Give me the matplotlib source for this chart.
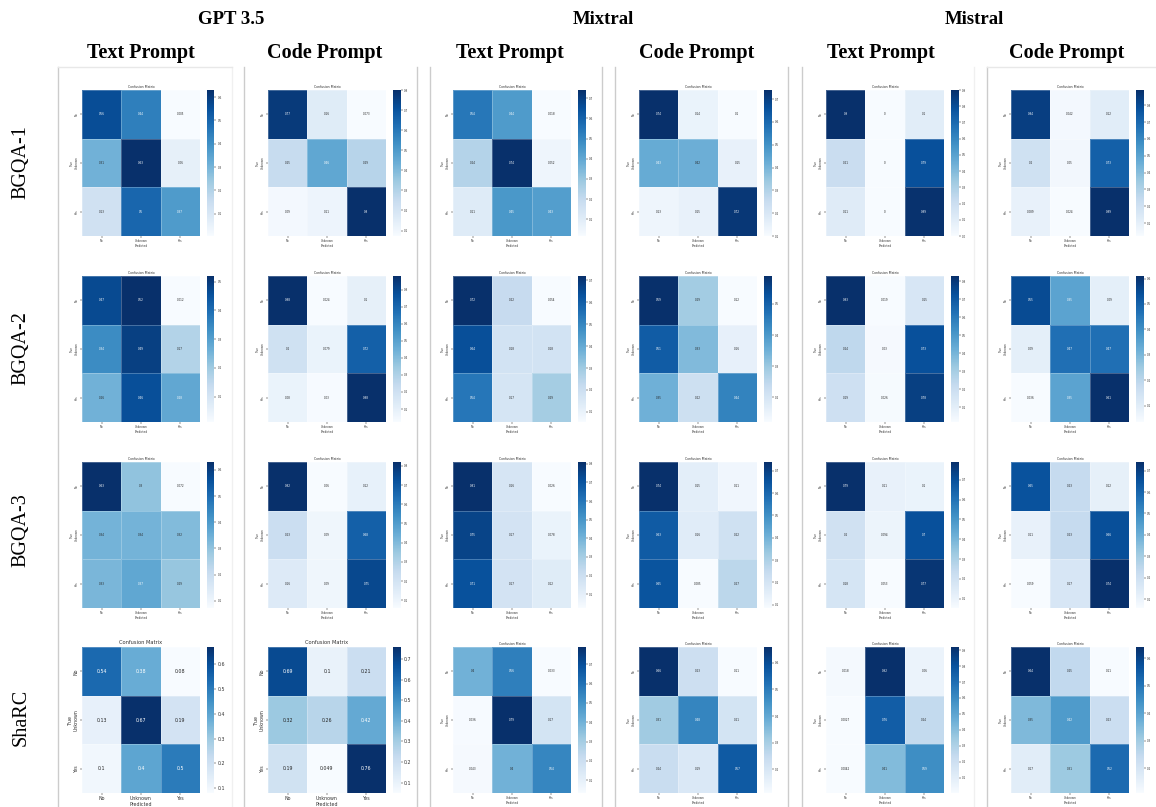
import matplotlib
matplotlib.use('Agg')
import matplotlib.pyplot as plt
from matplotlib.lines import Line2D
from matplotlib.ticker import MultipleLocator

WIDTH, HEIGHT = 1156, 807

models = ['GPT 3.5', 'Mixtral', 'Mistral']
prompts = ['Text Prompt', 'Code Prompt']
datasets = ['BGQA-1', 'BGQA-2', 'BGQA-3', 'ShaRC']
classes = ['No', 'Unknown', 'Yes']

bgqa1_gpt_text = [[0.56, 0.44, 0.005], [0.31, 0.63, 0.06], [0.13, 0.5, 0.37]]
bgqa1_gpt_code = [[0.77, 0.16, 0.073], [0.25, 0.46, 0.29], [0.09, 0.11, 0.8]]
bgqa1_mixtral_text = [[0.54, 0.44, 0.018], [0.24, 0.74, 0.052], [0.11, 0.45, 0.43]]
bgqa1_mixtral_code = [[0.74, 0.14, 0.1], [0.43, 0.42, 0.15], [0.13, 0.15, 0.72]]
bgqa1_mistral_text = [[0.9, 0, 0.1], [0.21, 0, 0.79], [0.11, 0, 0.89]]
bgqa1_mistral_code = [[0.84, 0.042, 0.12], [0.2, 0.05, 0.73], [0.089, 0.024, 0.89]]

bgqa2_gpt_text = [[0.47, 0.52, 0.012], [0.34, 0.49, 0.17], [0.26, 0.46, 0.28]]
bgqa2_gpt_code = [[0.88, 0.024, 0.1], [0.2, 0.079, 0.72], [0.08, 0.03, 0.88]]
bgqa2_mixtral_text = [[0.72, 0.22, 0.054], [0.64, 0.18, 0.18], [0.54, 0.17, 0.29]]
bgqa2_mixtral_code = [[0.59, 0.29, 0.12], [0.51, 0.33, 0.16], [0.35, 0.22, 0.44]]
bgqa2_mistral_text = [[0.83, 0.019, 0.15], [0.24, 0.03, 0.73], [0.19, 0.026, 0.78]]
bgqa2_mistral_code = [[0.55, 0.35, 0.09], [0.09, 0.47, 0.47], [0.036, 0.35, 0.61]]

bgqa3_gpt_text = [[0.63, 0.3, 0.072], [0.34, 0.34, 0.32], [0.33, 0.37, 0.29]]
bgqa3_gpt_code = [[0.82, 0.06, 0.12], [0.23, 0.09, 0.68], [0.16, 0.09, 0.75]]
bgqa3_mixtral_text = [[0.81, 0.16, 0.026], [0.75, 0.17, 0.078], [0.71, 0.17, 0.12]]
bgqa3_mixtral_code = [[0.74, 0.15, 0.11], [0.63, 0.16, 0.22], [0.65, 0.085, 0.27]]
bgqa3_mistral_text = [[0.79, 0.11, 0.1], [0.2, 0.094, 0.7], [0.18, 0.053, 0.77]]
bgqa3_mistral_code = [[0.65, 0.23, 0.12], [0.11, 0.23, 0.66], [0.059, 0.17, 0.74]]

sharc_gpt_text = [[0.54, 0.38, 0.08], [0.13, 0.67, 0.19], [0.1, 0.4, 0.5]]
sharc_gpt_code = [[0.69, 0.1, 0.21], [0.32, 0.26, 0.42], [0.19, 0.049, 0.76]]
sharc_mixtral_text = [[0.4, 0.56, 0.033], [0.036, 0.79, 0.17], [0.043, 0.4, 0.54]]
sharc_mixtral_code = [[0.66, 0.23, 0.11], [0.31, 0.48, 0.21], [0.24, 0.19, 0.57]]
sharc_mistral_text = [[0.018, 0.92, 0.06], [0.0027, 0.76, 0.24], [0.0042, 0.41, 0.59]]
sharc_mistral_code = [[0.64, 0.25, 0.11], [0.35, 0.42, 0.23], [0.17, 0.31, 0.52]]

matrices = [
    [bgqa1_gpt_text, bgqa1_gpt_code, bgqa1_mixtral_text, bgqa1_mixtral_code, bgqa1_mistral_text, bgqa1_mistral_code],
    [bgqa2_gpt_text, bgqa2_gpt_code, bgqa2_mixtral_text, bgqa2_mixtral_code, bgqa2_mistral_text, bgqa2_mistral_code],
    [bgqa3_gpt_text, bgqa3_gpt_code, bgqa3_mixtral_text, bgqa3_mixtral_code, bgqa3_mistral_text, bgqa3_mistral_code],
    [sharc_gpt_text, sharc_gpt_code, sharc_mixtral_text, sharc_mixtral_code, sharc_mistral_text, sharc_mistral_code],
]

# pixel boxes measured on the reference
col_left = [82, 268, 453, 639, 826, 1011]
row_top = [90, 276, 462, 647]
row_label_y = [162, 348, 530, 717]
panel_w, panel_h = 118, 146
separators = [58, 244, 417, 430, 602, 615, 788, 802, 987]
faint_separators = [232, 974]


def pixel_box(left, top, width, height):
    return [left / WIDTH, 1 - (top + height) / HEIGHT, width / WIDTH, height / HEIGHT]


def fig_text(fig, x, y, label, **kwargs):
    fig.text(x / WIDTH, 1 - y / HEIGHT, label, ha='center', va='center',
             family='Liberation Serif', color='black', **kwargs)


def format_value(value):
    return f'{value:.2g}'


def draw_matrix(fig, matrix, left, top, big):
    ax = fig.add_axes(pixel_box(left, top, panel_w, panel_h))
    cax = fig.add_axes(pixel_box(left + panel_w + 7, top, 7.5, panel_h))
    flat = [v for row in matrix for v in row]
    low, high = min(flat), max(flat)

    small = 3.4 if big else 2.0
    mesh = ax.pcolormesh(matrix, cmap='Blues', vmin=low, vmax=high,
                         edgecolors=(1, 1, 1, 0.25), linewidth=0.5)
    ax.invert_yaxis()
    for i, row in enumerate(matrix):
        for j, value in enumerate(row):
            shade = (value - low) / (high - low)
            ax.text(j + 0.5, i + 0.5, format_value(value), ha='center', va='center',
                    fontsize=small, color='white' if shade > 0.5 else '#262626')

    ax.set_xticks([0.5, 1.5, 2.5], classes)
    ax.set_yticks([0.5, 1.5, 2.5], classes, rotation=90, va='center')
    ax.tick_params(labelsize=small, length=1.2, width=0.3, pad=1.2, labelcolor='#333333')
    ax.set_title('Confusion Matrix', fontsize=small + 0.3, pad=2 if big else 1.2, color='#333333')
    ax.set_xlabel('Predicted', fontsize=small, labelpad=0.8, color='#333333')
    ax.set_ylabel('True', fontsize=small, labelpad=0.5, color='#333333')
    for spine in ax.spines.values():
        spine.set_visible(False)

    bar = fig.colorbar(mesh, cax=cax)
    bar.locator = MultipleLocator(0.1)
    bar.update_ticks()
    bar.outline.set_visible(False)
    cax.tick_params(labelsize=small, length=1.2, width=0.3, pad=1, labelcolor='#333333')


def main():
    fig = plt.figure(figsize=(WIDTH / 100, HEIGHT / 100), dpi=100)

    for x in separators:
        fig.add_artist(Line2D([x / WIDTH] * 2, [0, 1 - 67 / HEIGHT], color='#cccccc', linewidth=1))
    for x in faint_separators:
        fig.add_artist(Line2D([x / WIDTH] * 2, [0, 1 - 67 / HEIGHT], color='#f0f0f0', linewidth=1))
    fig.add_artist(Line2D([58 / WIDTH, 232 / WIDTH], [1 - 67 / HEIGHT] * 2, color='#e8e8e8', linewidth=1))
    fig.add_artist(Line2D([987 / WIDTH, 1156 / WIDTH], [1 - 67 / HEIGHT] * 2, color='#e8e8e8', linewidth=1))

    for x, model in zip([231, 603, 974], models):
        fig_text(fig, x, 19, model, fontsize=13.5, fontweight='bold')
    for i, x in enumerate([141, 325, 510, 697, 881, 1067]):
        fig_text(fig, x, 53, prompts[i % 2], fontsize=14.5, fontweight='bold')
    for y, name in zip(row_label_y, datasets):
        fig_text(fig, 21, y, name, fontsize=14.5, rotation=90)

    for r, row in enumerate(matrices):
        for c, matrix in enumerate(row):
            draw_matrix(fig, matrix, col_left[c], row_top[r], big=(r == 3 and c < 2))

    fig.savefig('out.png', dpi=100)


main()
